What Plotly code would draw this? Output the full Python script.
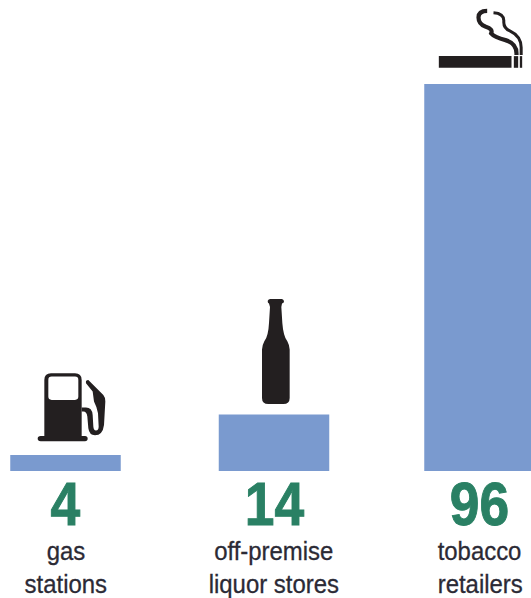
import re
import plotly.graph_objects as go

# Retail outlet counts per category
values = [4, 14, 96]
label_lines = [["gas", "stations"], ["off-premise", "liquor stores"], ["tobacco", "retailers"]]

# Horizontal layout, in page pixels
centers = [65.5, 274, 479.5]
BAR_WIDTH = 110.5
W, H = 531, 598
BASE_PX = 471
PX_PER_UNIT = 4.03

BAR_COLOR = "#7a9acf"
NUM_COLOR = "#2a8064"
TEXT_COLOR = "#2b2a35"
ICON_COLOR = "#231f20"
SANS = "Liberation Sans, Arial, sans-serif"

# Icon outlines, drawn at 3x and scaled down on placement
PUMP = (
    "M133 60 Q133 40 153 40 H225 Q245 40 245 60 V228 H255 Q263 228 263 236 Q263 244 255 244 "
    "H122 Q113 244 113 236 Q113 228 122 228 H133 Z "
    "M155 50 H225 Q235 50 235 60 V110 Q235 120 225 120 H155 Q145 120 145 110 V60 Q145 50 155 50 Z"
)
HOSE = (
    "M245 143 H258 Q276 143 278 165 L280 200 Q281 212 288 212 Q296 212 296 200 L294 160 "
    "Q290 140 282 125 L278 95 L258 70 Q256 60 265 60 L310 105 Q318 115 316 125 L312 195 "
    "Q308 226 285 226 Q268 226 265 205 L262 170 Q260 155 250 155 H245 Z"
)
BOTTLE = (
    "M210 28 H246 Q252 30 252 36 Q252 41 246 42 L244 52 L247 100 Q250 140 262 155 Q269 168 269 180 "
    "V325 Q269 343 250 343 H205 Q186 343 186 325 V180 Q186 168 193 155 Q205 140 207 100 L210 52 "
    "L207 42 Q203 40 203 34 Q204 29 210 28 Z"
)
CIG_BODY = "M55 168 H273 V203 H55 Z"
CIG_BAND1 = "M280 168 H293 V203 H280 Z"
CIG_BAND2 = "M298 168 H305 V203 H298 Z"
SMOKE1 = "M200 32 Q174 32 174 52 Q174 72 196 80 Q218 86 212 100 Q222 112 255 120 Q288 130 288 160 V165"
SMOKE2 = "M219 38 Q250 40 250 62 Q248 84 268 92 Q302 108 302 142 V165"


def place(path, ox, oy):
    """Scale a 3x outline to pixels, relative to an anchor; y points up."""
    out, axis, single = [], 0, False
    for tok in re.findall(r"[A-Za-z]|-?\d+\.?\d*", path):
        if tok.isalpha():
            out.append(tok)
            axis = 1 if tok == "V" else 0
            single = tok in "HV"
        else:
            n = float(tok)
            out.append(f"{(n - ox) / 3:.2f}" if axis == 0 else f"{(oy - n) / 3:.2f}")
            if not single:
                axis = 1 - axis
    return " ".join(out)


def icon(i, path, ox, oy, fill=True, lw=0):
    return dict(
        type="path",
        xsizemode="pixel", ysizemode="pixel",
        xanchor=centers[i], yanchor=values[i],
        xref="x", yref="y",
        path=place(path, ox, oy),
        fillcolor=ICON_COLOR if fill else "rgba(0,0,0,0)",
        line=dict(color=ICON_COLOR, width=lw),
        layer="above",
    )


shapes = [
    icon(0, PUMP, 196.5, 285),
    icon(0, HOSE, 196.5, 285),
    icon(1, BOTTLE, 222, 375),
    icon(2, CIG_BODY, 177, 252),
    icon(2, CIG_BAND1, 177, 252),
    icon(2, CIG_BAND2, 177, 252),
    icon(2, SMOKE1, 177, 252, fill=False, lw=4.2),
    icon(2, SMOKE2, 177, 252, fill=False, lw=3.0),
]

annotations = []
for cx, v, lines in zip(centers, values, label_lines):
    annotations.append(dict(
        x=cx, y=0, xref="x", yref="y", text=f"<b>{v}</b>", showarrow=False,
        xanchor="center", yanchor="middle", yshift=-32,
        font=dict(family=SANS, size=62, color=NUM_COLOR),
    ))
    for k, line in enumerate(lines):
        annotations.append(dict(
            x=cx, y=0, xref="x", yref="y", text=line, showarrow=False,
            xanchor="center", yanchor="middle", yshift=-80 - 33 * k,
            font=dict(family=SANS, size=26, color=TEXT_COLOR),
        ))

fig = go.Figure(go.Bar(
    x=centers, y=values, width=BAR_WIDTH,
    marker=dict(color=BAR_COLOR, line=dict(width=0)),
    hoverinfo="skip",
))
fig.update_layout(
    width=W, height=H,
    margin=dict(l=0, r=0, t=0, b=0),
    paper_bgcolor="white", plot_bgcolor="white",
    showlegend=False,
    xaxis=dict(range=[0, W], visible=False, fixedrange=True),
    yaxis=dict(range=[-(H - BASE_PX) / PX_PER_UNIT, BASE_PX / PX_PER_UNIT], visible=False, fixedrange=True),
    shapes=shapes,
    annotations=annotations,
)

# Condense the annotation lettering, since no narrow face is installed
CONDENSE_JS = """
document.querySelectorAll('.annotation-text').forEach(function (t) {
  var big = parseFloat(getComputedStyle(t).fontSize) > 40;
  var ratio = big ? 0.86 : 0.92;
  t.setAttribute('lengthAdjust', 'spacingAndGlyphs');
  t.setAttribute('textLength', t.getComputedTextLength() * ratio);
  t.style.stroke = getComputedStyle(t).fill;
  t.style.strokeWidth = big ? '1px' : '0.3px';
});
"""
fig.write_html("out.html", config=dict(displayModeBar=False), post_script=CONDENSE_JS)
